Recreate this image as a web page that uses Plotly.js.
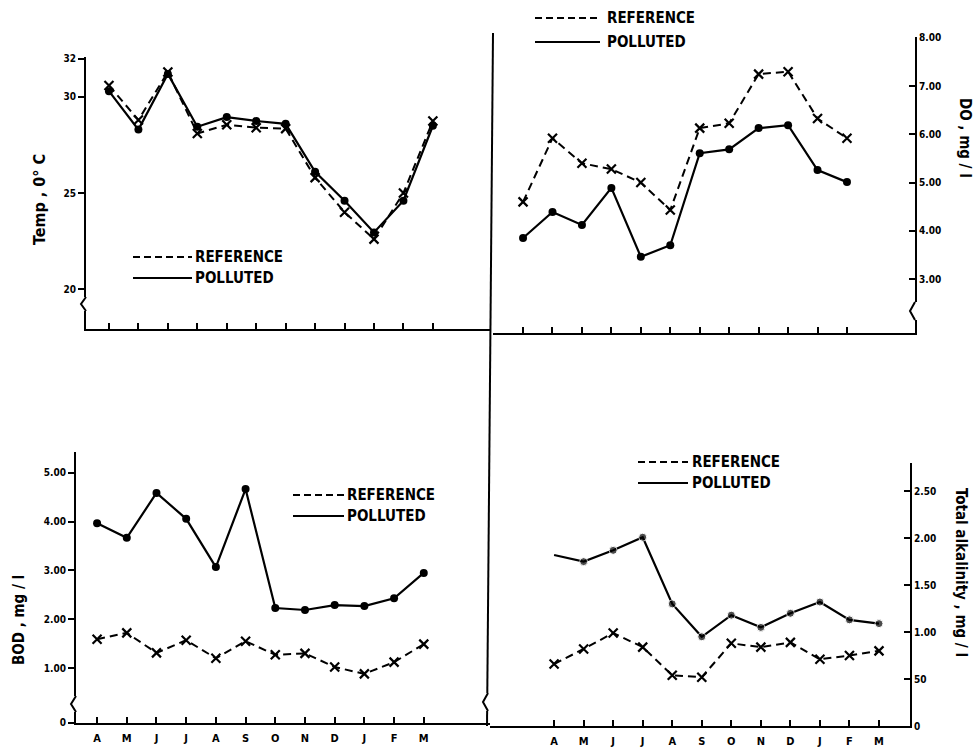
<!DOCTYPE html>
<html>
<head>
<meta charset="utf-8">
<script src="https://cdn.plot.ly/plotly-3.0.1.min.js"></script>
<style>html,body{margin:0;padding:0;background:#fff;}#chart{width:979px;height:750px;}</style>
</head>
<body>
<div id="chart"></div>
<script>
// ---- data ----
const months = ['A','M','J','J','A','S','O','N','D','J','F','M'];
const tempRef = [30.6, 28.8, 31.3, 28.1, 28.55, 28.4, 28.35, 25.8, 24.0, 22.6, 25.0, 28.75];
const tempPol = [30.3, 28.3, 31.2, 28.45, 28.95, 28.75, 28.6, 26.1, 24.6, 22.95, 24.6, 28.5];
const doRef = [4.6, 5.92, 5.4, 5.28, 5.0, 4.43, 6.13, 6.23, 7.25, 7.3, 6.33, 5.92];
const doPol = [3.85, 4.39, 4.12, 4.89, 3.46, 3.70, 5.61, 5.69, 6.13, 6.19, 5.26, 5.01];
const bodRef = [1.59, 1.72, 1.31, 1.57, 1.2, 1.55, 1.27, 1.3, 1.02, 0.88, 1.12, 1.49];
const bodPol = [3.97, 3.67, 4.59, 4.06, 3.07, 4.67, 2.23, 2.19, 2.29, 2.27, 2.43, 2.95];
const alkRef = [0.66, 0.82, 0.99, 0.84, 0.54, 0.52, 0.88, 0.84, 0.89, 0.71, 0.75, 0.80];
const alkPol = [1.82, 1.75, 1.87, 2.01, 1.30, 0.95, 1.18, 1.05, 1.20, 1.32, 1.13, 1.09];
const tempTicks = [20, 25, 30, 32];
const doTicks = [3, 4, 5, 6, 7, 8];
const doTickText = ['3.00','4.00','5.00','6.00','7.00','8.00'];
const bodTicks = [-0.12, 1, 2, 3, 4, 5];
const bodTickText = ['0','1.00','2.00','3.00','4.00','5.00'];
const alkTicks = [0, 0.5, 1, 1.5, 2, 2.5];
const alkTickText = ['0','50','1.00','1.50','2.00','2.50'];
const seriesNames = ['REFERENCE', 'POLLUTED'];

// ---- helpers ----
const W = 979, H = 750;
const X = p => p / W;
const Y = p => 1 - p / H;
const idx = months.map((_, i) => i);
const FONT = 'DejaVu Sans Condensed, DejaVu Sans, sans-serif';
const DASH = '8px,5px';

function refTrace(vals, xa, ya) {
  return {x: idx, y: vals, xaxis: xa, yaxis: ya, mode: 'lines+markers', name: seriesNames[0],
    line: {color: '#000', width: 2, dash: DASH},
    marker: {symbol: 'x-thin-open', size: 9, color: '#000', line: {width: 2.2, color: '#000'}},
    showlegend: false, hoverinfo: 'skip'};
}
function polTrace(vals, xa, ya, sizes) {
  return {x: idx, y: vals, xaxis: xa, yaxis: ya, mode: 'lines+markers', name: seriesNames[1],
    line: {color: '#000', width: 2.2},
    marker: {symbol: 'circle', size: sizes || 8, color: '#000'},
    showlegend: false, hoverinfo: 'skip'};
}

const data = [
  refTrace(tempRef, 'x', 'y'), polTrace(tempPol, 'x', 'y'),
  refTrace(doRef, 'x2', 'y2'), polTrace(doPol, 'x2', 'y2'),
  refTrace(bodRef, 'x3', 'y3'), polTrace(bodPol, 'x3', 'y3'),
  refTrace(alkRef, 'x4', 'y4'), polTrace(alkPol, 'x4', 'y4', alkPol.map((_, i) => i === 0 ? 0 : 8))
];

const tf = {family: FONT, size: 11, color: '#000', weight: 'bold'};
function xax(dom, range, anchor, labels) {
  return {domain: [X(dom[0]), X(dom[1])], range: range, anchor: anchor, showline: true, linewidth: 2,
    linecolor: '#000', ticks: 'inside', ticklen: 6, tickwidth: 2, tickcolor: '#000',
    tickmode: 'array', tickvals: idx, ticktext: months, showticklabels: labels, ticklabelstandoff: 4,
    showgrid: false, zeroline: false, tickfont: tf, fixedrange: true};
}
function yax(dom, range, anchor, side, vals, text, ticks) {
  return {domain: [Y(dom[1]), Y(dom[0])], range: range, anchor: anchor, side: side, showline: true,
    linewidth: 2, linecolor: '#000', ticks: ticks, ticklen: 6, tickwidth: 2, tickcolor: '#000',
    tickmode: 'array', tickvals: vals, ticktext: text, showgrid: false, zeroline: false,
    tickfont: {family: FONT, size: 10, color: '#000', weight: 'bold'}, fixedrange: true};
}

const layout = {
  width: W, height: H, margin: {l: 0, r: 0, t: 0, b: 0},
  paper_bgcolor: '#fff', plot_bgcolor: 'rgba(0,0,0,0)', showlegend: false,
  font: {family: FONT, color: '#000'},
  xaxis: xax([86, 490], [-0.78, 12.94], 'y', false),
  yaxis: yax([57, 329], [17.92, 32.08], 'x', 'left', tempTicks, tempTicks.map(String), 'outside'),
  xaxis2: xax([493, 915], [-1.02, 13.31], 'y2', false),
  yaxis2: yax([37, 333], [1.88, 8.02], 'x2', 'right', doTicks, doTickText, 'inside'),
  xaxis3: xax([76, 490], [-0.71, 13.23], 'y3', true),
  yaxis3: yax([452, 723], [-0.128, 5.43], 'x3', 'left', bodTicks, bodTickText, 'outside'),
  xaxis4: xax([490, 910], [-2.17, 12.05], 'y4', true),
  yaxis4: yax([463, 726], [0, 2.80], 'x4', 'right', alkTicks, alkTickText, 'inside'),
  shapes: [],
  annotations: []
};

// central divider line
layout.shapes.push({type: 'line', xref: 'paper', yref: 'paper', x0: X(493), y0: Y(33), x1: X(487), y1: Y(726),
  line: {color: '#000', width: 2}});

// axis breaks
function brk(x, yTop, yBot) {
  const ym = (yTop + yBot) / 2;
  layout.shapes.push({type: 'rect', xref: 'paper', yref: 'paper', x0: X(x - 3), x1: X(x + 3), y0: Y(yBot), y1: Y(yTop),
    line: {width: 0}, fillcolor: '#fff'});
  layout.shapes.push({type: 'path', xref: 'paper', yref: 'paper',
    path: `M ${X(x)} ${Y(yTop)} L ${X(x - 5)} ${Y(ym)} L ${X(x)} ${Y(yBot)}`,
    line: {color: '#000', width: 2}});
}
brk(86, 297, 311);
brk(915, 302, 320);
brk(76, 696, 712);
brk(488, 693, 711);

// legends
function legend(x0, x1, yRef, yPol, tx) {
  layout.shapes.push({type: 'line', xref: 'paper', yref: 'paper', x0: X(x0), x1: X(x1), y0: Y(yRef), y1: Y(yRef),
    line: {color: '#000', width: 2, dash: '7px,4px'}});
  layout.shapes.push({type: 'line', xref: 'paper', yref: 'paper', x0: X(x0), x1: X(x1), y0: Y(yPol), y1: Y(yPol),
    line: {color: '#000', width: 2}});
  [[yRef, seriesNames[0]], [yPol, seriesNames[1]]].forEach(([yy, t]) => {
    layout.annotations.push({xref: 'paper', yref: 'paper', x: X(tx), y: Y(yy), text: t, showarrow: false,
      xanchor: 'left', yanchor: 'middle', font: {family: FONT, size: 15, color: '#000', weight: 'bold'}});
  });
}
legend(133, 192, 257, 278, 193);
legend(535, 600, 18, 42, 605);
legend(293, 344, 495, 516, 345);
legend(638, 688, 462, 483, 690);

// axis titles
function title(x, y, text, angle, size) {
  layout.annotations.push({xref: 'paper', yref: 'paper', x: X(x), y: Y(y), text: text, showarrow: false,
    textangle: angle, xanchor: 'center', yanchor: 'middle',
    font: {family: FONT, size: size, color: '#000', weight: 'bold'}});
}
title(40, 200, 'Temp , 0° C', -90, 16);
title(965, 138, 'DO , mg / l', 90, 15);
title(19, 620, 'BOD , mg / l', -90, 15);
title(961, 572, 'Total alkalinity , mg / l', 90, 15);

Plotly.newPlot('chart', data, layout, {staticPlot: true, displayModeBar: false});
</script>
</body>
</html>
